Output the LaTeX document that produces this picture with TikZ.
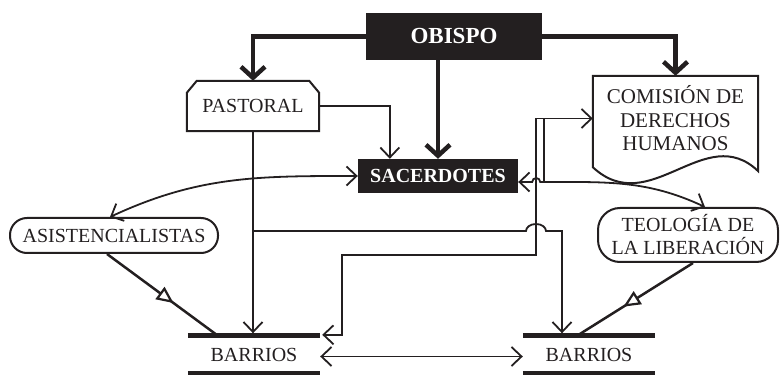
\documentclass[tikz,border=0pt]{standalone}
\usepackage{fontspec}
\setmainfont{Liberation Serif}
\usetikzlibrary{arrows.meta,decorations.markings,calc}
\definecolor{ink}{HTML}{231F20}
\begin{document}
\begin{tikzpicture}[x=1pt,y=1pt,
  every node/.style={inner sep=0pt, text=ink},
  txt/.style={font=\fontsize{20}{23}\selectfont, align=center},
  darkbox/.style={fill=ink, text=white},
  wbox/.style={draw=ink, line width=2pt},
  outline/.style={draw=ink, line width=2pt, line join=miter},
  thickconn/.style={draw=ink, line width=4.5pt, -{Straight Barb[length=11pt,width=24pt]}},
  thinconn/.style={draw=ink, line width=1.8pt, -{Straight Barb[length=10pt,width=19pt]}},
  thinboth/.style={draw=ink, line width=1.8pt, {Straight Barb[length=10pt,width=19pt]}-{Straight Barb[length=10pt,width=19pt]}},
  plainline/.style={draw=ink, line width=1.8pt},
  bar/.style={draw=ink, line width=5pt},
  midtri/.style={draw=ink, line width=2.5pt, postaction={decorate},
    decoration={markings, mark=at position 0.6 with {\arrow{Triangle[fill=white, length=17pt, width=15pt, line width=2.2pt]}}}}
]
\useasboundingbox (0,0) rectangle (780,375);

% nodes
\node (obispo) [darkbox, minimum width=176pt, minimum height=47pt, font=\bfseries\fontsize{23}{26}\selectfont] at (454,338.5) {OBISPO};
\node (pastoral) [txt, minimum width=132pt, minimum height=50pt] at (253,269) {PASTORAL};
\node (sacerdotes) [darkbox, minimum width=160pt, minimum height=34pt, font=\bfseries\fontsize{20}{23}\selectfont] at (438,199) {SACERDOTES};
\node (comision) [font=\fontsize{21}{23.5}\selectfont, align=center, minimum width=165pt, minimum height=85pt] at (675.5,256.5) {COMISIÓN DE\\DERECHOS\\HUMANOS};
\node (asis) [txt, wbox, rounded corners=17pt, minimum width=208pt, minimum height=35pt] at (114,139.5) {ASISTENCIALISTAS};
\node (teologia) [txt, wbox, rounded corners=22pt, minimum width=180pt, minimum height=54pt] at (688,140) {TEOLOGÍA DE\\LA LIBERACIÓN};
\node (b1) [txt, minimum width=132pt, minimum height=37pt] at (254,20.5) {BARRIOS};
\node (b2) [txt, minimum width=132pt, minimum height=37pt] at (589,20.5) {BARRIOS};

% outlines
\draw[outline] (pastoral.south west) -- ([yshift=-12pt]pastoral.north west) -- ([xshift=10pt]pastoral.north west)
  -- ([xshift=-10pt]pastoral.north east) -- ([yshift=-12pt]pastoral.north east) -- (pastoral.south east) -- cycle;
\draw[outline] ([yshift=-6pt]comision.south west) -- (comision.north west) -- (comision.north east)
  -- ([yshift=-10pt]comision.south east) .. controls +(-53,51) and +(57,-53) .. ([yshift=-6pt]comision.south west) -- cycle;
\draw[bar] (b1.north west) -- (b1.north east) (b1.south west) -- (b1.south east);
\draw[bar] (b2.north west) -- (b2.north east) (b2.south west) -- (b2.south east);

% thick connectors from OBISPO
\draw[thickconn] (obispo.west) -| (pastoral.north);
\draw[thickconn] (obispo.east) -| (comision.north);
\draw[thickconn] (obispo.south -| sacerdotes.north) -- (sacerdotes.north);

% thin connectors
\draw[thinconn] (pastoral.east) -| ([xshift=32pt]sacerdotes.north west);
\draw[thinconn, shorten >=2.5pt] (pastoral.south) -- (pastoral.south |- b1.north);
\coordinate (j1) at (pastoral.south |- 0,144);
\draw[thinconn, shorten >=2.5pt] (j1) -- (526,144) arc[start angle=180, end angle=0, x radius=10, y radius=7] -| ([xshift=-27pt]b2.north);

\draw[thinboth] ([xshift=2pt,yshift=1pt]b1.north east) -- ++(20,0) |- (536,120) |- (comision.west);
\draw[thinboth] ([yshift=-6pt]sacerdotes.east) -- ++(14,0) arc[start angle=180, end angle=0, radius=4] -- ++(4,0)
  to[out=0,in=155] ([xshift=17pt]teologia.north);
\coordinate (j2) at ([xshift=26pt,yshift=-6pt]sacerdotes.east);
\draw[plainline] (j2) -- (j2 |- comision.west);

\draw[thinboth] (sacerdotes.west) to[out=180,in=25] ([xshift=-4pt]asis.north);

\draw[midtri] ([xshift=-7pt]asis.south) -- ([xshift=-36pt]b1.north);
\draw[midtri] ([xshift=5pt]teologia.south) -- ([xshift=-12pt]b2.north);

\draw[thinboth] ([yshift=-2pt]b1.east) -- ([yshift=-2pt]b2.west);
\end{tikzpicture}
\end{document}
